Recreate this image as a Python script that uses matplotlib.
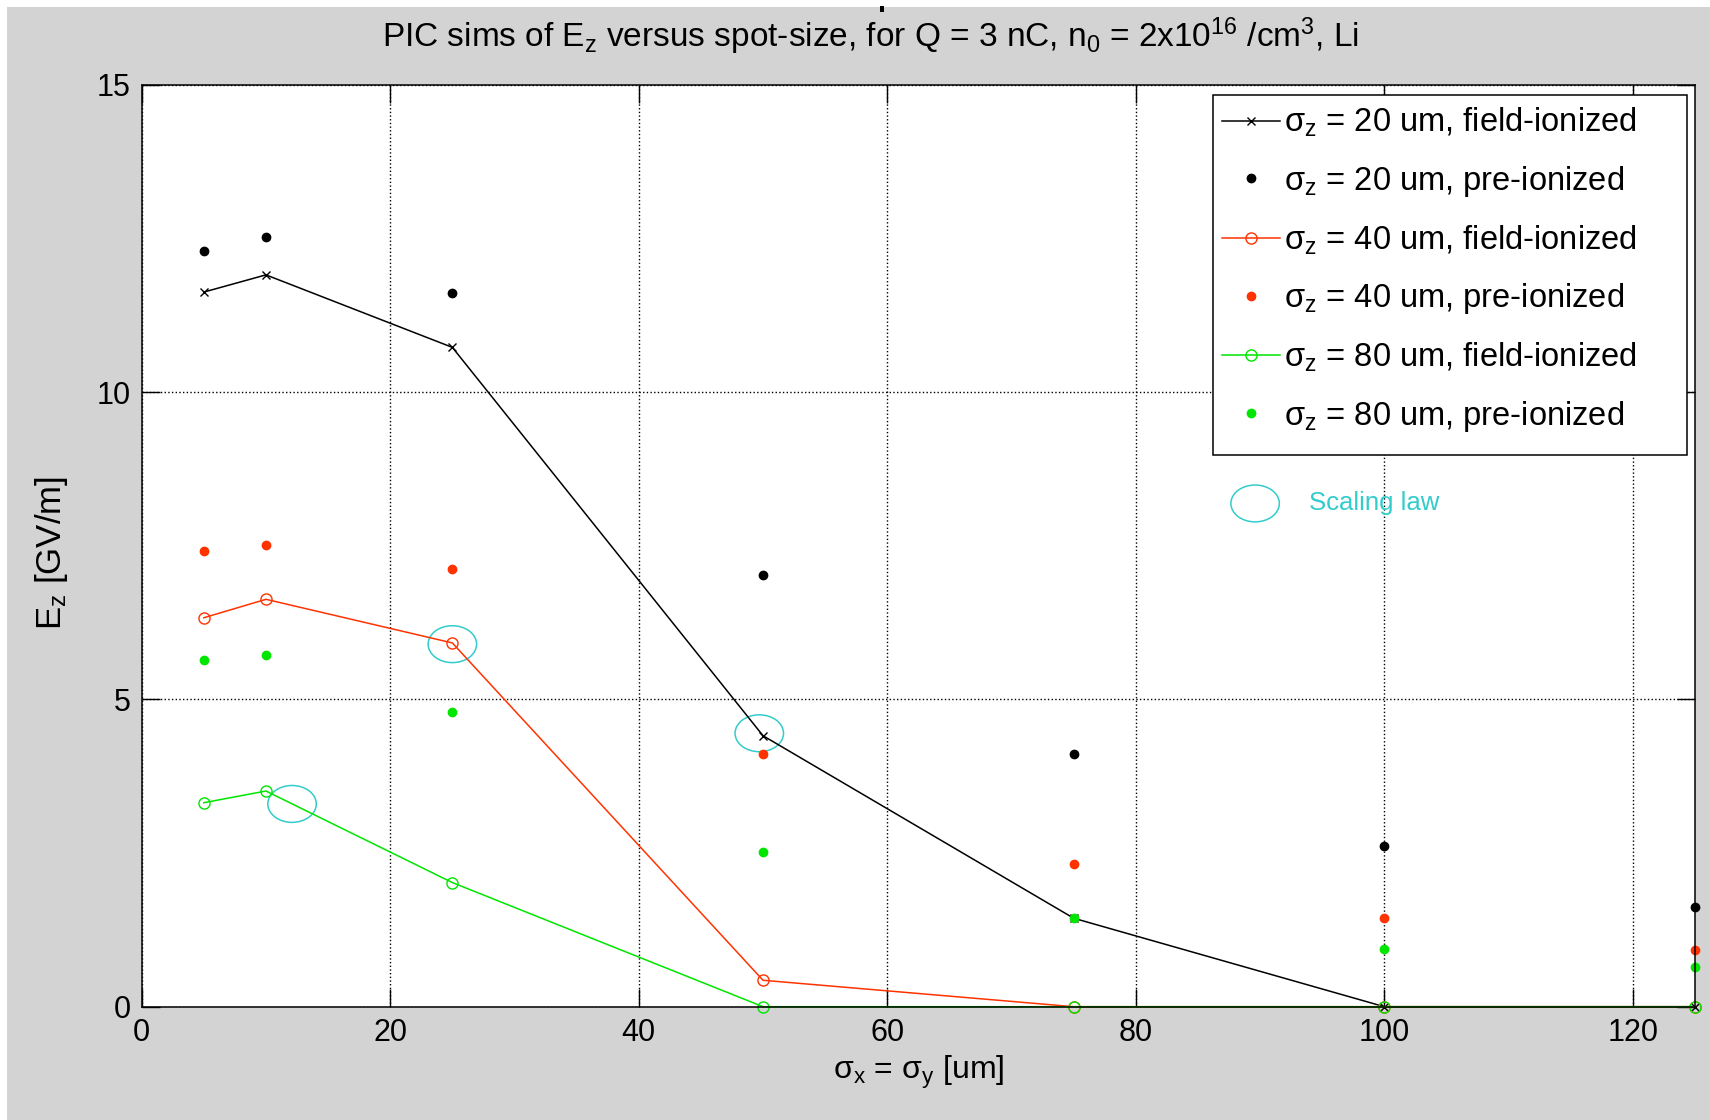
import numpy as np
import matplotlib
matplotlib.use("Agg")
import matplotlib.pyplot as plt
from matplotlib.patches import Ellipse, Rectangle

plt.rcParams['font.family'] = ['Liberation Sans', 'DejaVu Sans']
plt.rcParams['mathtext.fontset'] = 'custom'
plt.rcParams['mathtext.rm'] = 'Liberation Sans'
plt.rcParams['mathtext.it'] = 'Liberation Sans'

# spot size sigma_x = sigma_y [um]
spot = [5, 10, 25, 50, 75, 100, 125]

# peak Ez [GV/m]
ez20_field = [11.63, 11.91, 10.73, 4.41, 1.44, 0.0, 0.0]
ez20_pre = [12.30, 12.52, 11.61, 7.02, 4.11, 2.62, 1.63]
ez40_field = [6.33, 6.63, 5.92, 0.43, 0.0, 0.0, 0.0]
ez40_pre = [7.41, 7.52, 7.13, 4.11, 2.32, 1.44, 0.92]
ez80_field = [3.32, 3.51, 2.02, 0.0, 0.0, 0.0, 0.0]
ez80_pre = [5.64, 5.73, 4.80, 2.52, 1.44, 0.94, 0.64]

# scaling law estimates (x, Ez)
law_x = [25.0, 49.7, 12.1]
law_y = [5.90, 4.45, 3.30]

xticks = [0, 20, 40, 60, 80, 100, 120]
yticks = [0, 5, 10, 15]

red = '#ff3300'
green = '#00e600'
cyan = '#33cccc'
gray = '#d3d3d3'

W, H = 1710, 1120
fig = plt.figure(figsize=(W / 100, H / 100), dpi=100, facecolor='white')
fig.patches.append(Rectangle((7 / W, 0), 1, 1 - 7 / H, transform=fig.transFigure,
                             facecolor=gray, edgecolor='none', zorder=-10))
fig.patches.append(Rectangle((880 / W, 1 - 12 / H), 4 / W, 6 / H,
                             transform=fig.transFigure, facecolor='black',
                             edgecolor='none'))

ax = fig.add_axes([141.7 / W, 1 - 1006.7 / H, (1695 - 141.7) / W, (1006.7 - 85) / H])
ax.set_facecolor('white')

lw = 1.1
ax.plot(spot, ez20_field, '-', color='black', lw=lw, marker='x', ms=6, mew=1,
        label=r'$\mathdefault{σ}_\mathdefault{z}$ = 20 um, field-ionized', clip_on=False)
ax.plot(spot, ez20_pre, 'o', color='black', ms=6, ls='none',
        label=r'$\mathdefault{σ}_\mathdefault{z}$ = 20 um, pre-ionized', clip_on=False)
ax.plot(spot, ez40_field, '-', color=red, lw=lw, marker='o', ms=8, mfc='none', mew=1,
        label=r'$\mathdefault{σ}_\mathdefault{z}$ = 40 um, field-ionized', clip_on=False)
ax.plot(spot, ez40_pre, 'o', color=red, ms=6, ls='none',
        label=r'$\mathdefault{σ}_\mathdefault{z}$ = 40 um, pre-ionized', clip_on=False)
ax.plot(spot, ez80_field, '-', color=green, lw=lw, marker='o', ms=8, mfc='none', mew=1,
        label=r'$\mathdefault{σ}_\mathdefault{z}$ = 80 um, field-ionized', clip_on=False)
ax.plot(spot, ez80_pre, 'o', color=green, ms=6, ls='none',
        label=r'$\mathdefault{σ}_\mathdefault{z}$ = 80 um, pre-ionized', clip_on=False)

for x, y in zip(law_x, law_y):
    ax.add_patch(Ellipse((x, y), 3.9, 0.6, facecolor='none', edgecolor=cyan, lw=1.1))
ax.add_patch(Ellipse((89.6, 8.19), 3.9, 0.6, facecolor='none', edgecolor=cyan, lw=1.1))
ax.text(93.9, 8.2, 'Scaling law', color=cyan, fontsize=18.5, va='center', ha='left')

ax.set_xlim(0, 125)
ax.set_ylim(0, 15)
ax.set_xticks(xticks)
ax.set_yticks(yticks)
ax.grid(True, linestyle=':', color='black', lw=1.0)
ax.tick_params(direction='in', top=True, right=True, length=13, width=1,
               labelsize=22, pad=8)
for s in ax.spines.values():
    s.set_linewidth(1.1)

ax.set_xlabel(r'$\mathdefault{σ}_\mathdefault{x}$ = $\mathdefault{σ}_\mathdefault{y}$ [um]',
              fontsize=23, labelpad=4)
ax.set_ylabel(r'$\mathdefault{E}_\mathdefault{z}$ [GV/m]', fontsize=25)
ax.yaxis.set_label_coords(-0.046, 0.492)

fig.text(871 / W, 1 - 36 / H,
         r'PIC sims of $\mathdefault{E}_\mathdefault{z}$ versus spot-size, for Q = 3 nC, '
         r'$\mathdefault{n}_\mathdefault{0}$ = 2x$\mathdefault{10}^\mathdefault{16}$ '
         r'/cm$^\mathdefault{3}$, Li',
         fontsize=24, ha='center', va='center')

# legend entries without frame, box drawn separately behind them
leg = ax.legend(loc='upper left', bbox_to_anchor=(1221.5 / W, 1 - 106 / H),
                bbox_transform=fig.transFigure, fontsize=23.5, frameon=False,
                handlelength=1.8, handletextpad=0.1, labelspacing=0.75,
                borderpad=0, borderaxespad=0)
ax.add_patch(Rectangle((1212.7 / W, 1 - 454.8 / H), (1687.2 - 1212.7) / W,
                       (454.8 - 94.9) / H, transform=fig.transFigure, clip_on=False,
                       facecolor='white', edgecolor='black', lw=1.1, zorder=4.5))

fig.savefig('out.png', dpi=100, facecolor=fig.get_facecolor())
